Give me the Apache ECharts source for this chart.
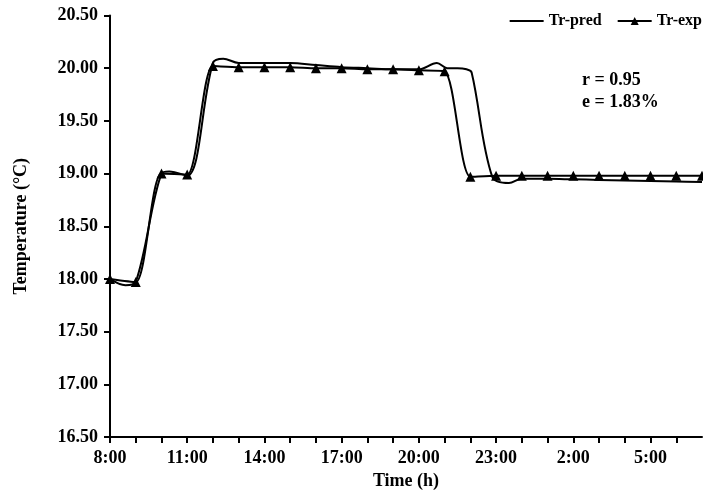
<!DOCTYPE html>
<html>
<head>
<meta charset="utf-8">
<script src="https://cdn.jsdelivr.net/npm/echarts@6/dist/echarts.min.js"></script>
<style>
  html, body { margin: 0; padding: 0; background: #fff; }
  #chart { width: 703px; height: 501px; }
</style>
</head>
<body>
<div id="chart"></div>
<script>
// Hourly clock labels, 8:00 through 7:00 the next morning (index = hours since 8:00)
const timeLabels = ['8:00', '9:00', '10:00', '11:00', '12:00', '13:00', '14:00', '15:00',
  '16:00', '17:00', '18:00', '19:00', '20:00', '21:00', '22:00', '23:00',
  '0:00', '1:00', '2:00', '3:00', '4:00', '5:00', '6:00', '7:00'];

// Measured room temperature, one reading per hour (°C)
const expTemp = [18.00, 17.97, 19.00, 18.99, 20.02, 20.01, 20.01, 20.01,
  20.00, 20.00, 19.99, 19.99, 19.98, 19.97, 18.97, 18.98,
  18.98, 18.98, 18.98, 18.98, 18.98, 18.98, 18.98, 18.98];

// Predicted room temperature (hours since 8:00, °C)
const predHours = [0, 0.6, 1, 2, 2.3, 3, 4, 4.4, 5, 6, 7, 8, 9, 10, 11, 12, 12.7, 13.1, 13.5,
  13.85, 14.05, 14.85, 15.5, 16, 17, 18, 19, 20, 21, 22, 23];
const predTemp = [18.00, 17.94, 17.97, 19.00, 19.02, 18.98, 20.05, 20.09, 20.05, 20.05, 20.05, 20.03,
  20.01, 20.00, 19.99, 19.99, 20.05, 20.00, 20.00, 19.99, 19.96, 18.97, 18.91, 18.95, 18.95,
  18.945, 18.94, 18.935, 18.93, 18.925, 18.92];

const stats = ['r = 0.95', 'e = 1.83%'];

const serif = '"Liberation Serif", "Times New Roman", serif';

const chart = echarts.init(document.getElementById('chart'), null, { renderer: 'canvas' });

chart.setOption({
  animation: false,
  backgroundColor: '#ffffff',
  grid: { left: 110, right: 1, top: 15.5, bottom: 64, containLabel: false },
  legend: {
    right: 1,
    top: 13,
    padding: 0,
    itemWidth: 34,
    itemHeight: 10,
    itemGap: 15,
    textStyle: { fontFamily: serif, fontSize: 16, fontWeight: 'bold', color: '#000' },
    data: [
      { name: 'Tr-pred', itemStyle: { opacity: 0 } },
      { name: 'Tr-exp' }
    ]
  },
  xAxis: {
    type: 'value',
    min: 0,
    max: 23,
    interval: 1,
    name: 'Time (h)',
    nameLocation: 'middle',
    nameGap: 34,
    nameTextStyle: { fontFamily: serif, fontSize: 18, fontWeight: 'bold', color: '#000' },
    axisLine: { lineStyle: { color: '#000', width: 2 } },
    axisTick: { length: 6, lineStyle: { color: '#000', width: 2 } },
    axisLabel: {
      margin: 12,
      fontFamily: serif, fontSize: 18, fontWeight: 'bold', color: '#000',
      showMaxLabel: false,
      formatter: v => (v % 3 === 0 ? timeLabels[v] : '')
    },
    splitLine: { show: false }
  },
  yAxis: {
    type: 'value',
    min: 16.5,
    max: 20.5,
    interval: 0.5,
    name: 'Temperature (°C)',
    nameLocation: 'middle',
    nameGap: 80,
    nameTextStyle: { fontFamily: serif, fontSize: 18, fontWeight: 'bold', color: '#000' },
    axisLine: { show: true, lineStyle: { color: '#000', width: 2 } },
    axisTick: { show: true, length: 6, lineStyle: { color: '#000', width: 2 } },
    axisLabel: {
      margin: 12,
      fontFamily: serif, fontSize: 18, fontWeight: 'bold', color: '#000',
      formatter: v => v.toFixed(2)
    },
    splitLine: { show: false }
  },
  series: [
    {
      name: 'Tr-pred',
      type: 'line',
      data: predHours.map((h, i) => [h, predTemp[i]]),
      symbol: 'none',
      smooth: 0.35,
      lineStyle: { color: '#000', width: 2 },
      itemStyle: { color: '#000' },
      z: 2
    },
    {
      name: 'Tr-exp',
      type: 'line',
      data: expTemp.map((t, i) => [i, t]),
      symbol: 'triangle',
      symbolSize: 10,
      smooth: 0.25,
      lineStyle: { color: '#000', width: 2 },
      itemStyle: { color: '#000' },
      z: 3
    }
  ],
  graphic: stats.map((s, i) => ({
    type: 'text',
    x: 582,
    y: 80 + i * 22.5,
    style: {
      text: s,
      font: 'bold 18px ' + serif,
      fill: '#000',
      verticalAlign: 'middle'
    }
  }))
});
</script>
</body>
</html>
